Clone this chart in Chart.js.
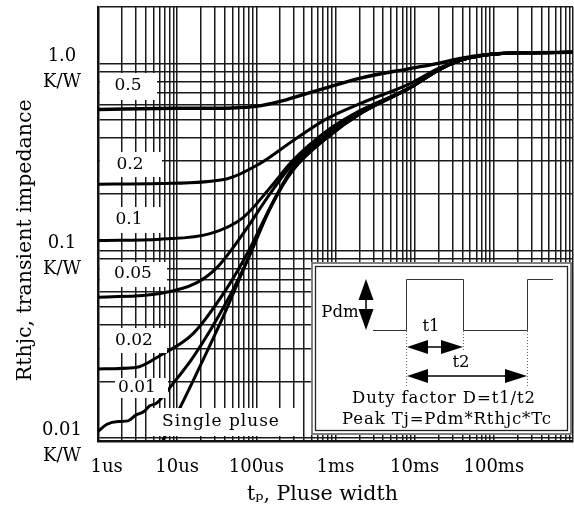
<!DOCTYPE html>
<html>
<head>
<meta charset="utf-8">
<script src="https://cdn.jsdelivr.net/npm/chart.js@4.4.1/dist/chart.umd.min.js"></script>
<style>
  html, body { margin: 0; padding: 0; background: #fff; }
  #wrap { width: 574px; height: 509px; }
</style>
</head>
<body>
<div id="wrap"><canvas id="zthChart" width="574" height="509"></canvas></div>
<script>
const FONT = "'DejaVu Serif', 'Liberation Serif', serif";

// --- axis ticks ---
const xMajor = [1e-6, 1e-5, 1e-4, 1e-3, 1e-2, 1e-1, 1];
const xMajorLabels = ['   1us', '10us', '100us', '1ms', '10ms', '100ms', ''];
const yMajor = [0.01, 0.1, 1];
const yMajorLabels = [['0.01', 'K/W'], ['0.1', 'K/W'], ['1.0', 'K/W']];
const gridSteps = [1, 2, 3, 4, 5, 6, 7, 8, 9];

// --- curves (pulse width in s, Zth in K/W) ---
const tD05 = [1e-6, 1e-5, 5e-5, 1e-4, 2e-4, 3e-4, 8e-4, 2e-3, 9e-3, 2e-2, 3.8e-2, 9.2e-2, 0.2, 1];
const zD05 = [0.567, 0.575, 0.578, 0.589, 0.626, 0.658, 0.744, 0.831, 0.940, 1.00, 1.063, 1.117, 1.138, 1.145];

const tD02 = [1e-6, 6.1e-6, 4.3e-5, 1.12e-4, 2.9e-4, 7.9e-4, 2.07e-3, 8.9e-3, 2e-2, 3.8e-2, 9.2e-2, 0.2, 1];
const zD02 = [0.226, 0.228, 0.242, 0.292, 0.386, 0.508, 0.611, 0.782, 0.94, 1.038, 1.117, 1.138, 1.145];

const tD01 = [1e-6, 6.1e-6, 2.6e-5, 6.8e-5, 1.5e-4, 2.9e-4, 7.9e-4, 2.07e-3, 8.9e-3, 2e-2, 3.8e-2, 9.2e-2, 0.2, 1];
const zD01 = [0.113, 0.115, 0.123, 0.150, 0.217, 0.303, 0.438, 0.561, 0.744, 0.92, 1.038, 1.117, 1.138, 1.145];

const tD005 = [1e-6, 6.1e-6, 1.7e-5, 3.2e-5, 6.8e-5, 1.5e-4, 2.9e-4, 7.9e-4, 2.07e-3, 8.9e-3, 2e-2, 3.8e-2, 9.2e-2, 0.2, 1];
const zD005 = [0.0562, 0.0590, 0.0667, 0.0813, 0.123, 0.202, 0.292, 0.422, 0.547, 0.744, 0.92, 1.038, 1.117, 1.138, 1.145];

const tD002 = [1e-6, 3e-6, 6.1e-6, 1.6e-5, 4.3e-5, 7.7e-5, 1.5e-4, 2.9e-4, 7.9e-4, 2.07e-3, 8.9e-3, 2e-2, 3.8e-2, 9.2e-2, 0.2, 1];
const zD002 = [0.0233, 0.0237, 0.0275, 0.0361, 0.0634, 0.0966, 0.170, 0.278, 0.412, 0.540, 0.744, 0.92, 1.038, 1.117, 1.138, 1.145];

const tD001 = [1e-6, 1.3e-6, 1.8e-6, 2.4e-6, 3e-6, 3.8e-6, 4.5e-6, 5.5e-6, 8.9e-6, 1.6e-5, 4.3e-5, 7.7e-5, 1.5e-4, 2.9e-4, 7.9e-4, 2.07e-3, 8.9e-3, 2e-2, 3.8e-2, 9.2e-2, 0.2, 1];
const zD001 = [0.0108, 0.0118, 0.0122, 0.0123, 0.0132, 0.0138, 0.0148, 0.0153, 0.0195, 0.0270, 0.0541, 0.0886, 0.168, 0.271, 0.402, 0.540, 0.744, 0.92, 1.038, 1.117, 1.138, 1.145];

const tSingle = [6.6e-6, 1.09e-5, 2.13e-5, 4.3e-5, 7.7e-5, 1.5e-4, 2.9e-4, 7.9e-4, 2.07e-3, 8.9e-3, 2e-2, 3.8e-2, 9.2e-2, 0.2, 1];
const zSingle = [0.0097, 0.0145, 0.0261, 0.0497, 0.0886, 0.170, 0.268, 0.402, 0.540, 0.744, 0.92, 1.038, 1.117, 1.138, 1.145];

const curveLabels = ['0.5', '0.2', '0.1', '0.05', '0.02', '0.01', 'Single pluse'];

// --- helpers ---
function toPoints(ts, zs) {
    return ts.map((t, i) => ({ x: t, y: zs[i] }));
}

function gridValues(decades) {
    const out = [];
    decades.forEach(d => gridSteps.forEach(s => out.push(s * d)));
    return out;
}

function sameLog(a, b) {
    return Math.abs(Math.log10(a) - Math.log10(b)) < 1e-6;
}

const xGrid = gridValues([1e-6, 1e-5, 1e-4, 1e-3, 1e-2, 1e-1]).concat([1]);
const yGrid = gridValues([0.01, 0.1]).concat([1, 2]);

function curve(ts, zs, width) {
    return {
        data: toPoints(ts, zs),
        borderColor: '#000',
        borderWidth: width,
        pointRadius: 0,
        fill: false,
        cubicInterpolationMode: 'monotone'
    };
}

// no extra padding for the first/last tick labels
function noPad(s) {
    s.paddingTop = 0;
    s.paddingBottom = 0;
    s.paddingLeft = 0;
    s.paddingRight = 0;
}

// label boxes over the grid: [text, x1, y1, x2, y2, cx, cy]
const labelBoxes = [
    [curveLabels[0], 100, 73, 157, 100, 128, 86],
    [curveLabels[1], 100, 152, 162, 177, 130, 165],
    [curveLabels[2], 100, 207, 162, 233, 129, 220],
    [curveLabels[3], 100, 262, 167, 287, 133, 274],
    [curveLabels[4], 100, 328, 167, 353, 134, 341],
    [curveLabels[5], 115, 378, 168, 398, 137, 388],
    [curveLabels[6], 150, 408, 303, 436, 221, 422]
];

function filledArrow(ctx, tipX, tipY, baseX, baseY, half) {
    // triangle from a tip back to a base, perpendicular half-width "half"
    const dx = tipX - baseX, dy = tipY - baseY;
    const len = Math.hypot(dx, dy);
    const nx = -dy / len * half, ny = dx / len * half;
    ctx.beginPath();
    ctx.moveTo(tipX, tipY);
    ctx.lineTo(baseX + nx, baseY + ny);
    ctx.lineTo(baseX - nx, baseY - ny);
    ctx.closePath();
    ctx.fill();
}

const annotations = {
    id: 'annotations',
    afterDraw(chart) {
        const ctx = chart.ctx;
        ctx.save();
        ctx.textAlign = 'center';
        ctx.textBaseline = 'middle';
        ctx.font = '17px ' + FONT;

        labelBoxes.forEach(([txt, x1, y1, x2, y2, cx, cy]) => {
            ctx.fillStyle = '#fff';
            ctx.fillRect(x1, y1, x2 - x1, y2 - y1);
            ctx.fillStyle = '#000';
            ctx.letterSpacing = txt.length > 4 ? '1px' : '0px';
            ctx.fillText(txt, cx, cy);
        });

        // inset with the pulse diagram
        ctx.fillStyle = '#fff';
        ctx.fillRect(311, 262, 261, 173);
        ctx.strokeStyle = '#555';
        ctx.lineWidth = 1.5;
        ctx.strokeRect(312, 263, 259, 171);
        ctx.strokeStyle = '#222';
        ctx.lineWidth = 1.3;
        ctx.strokeRect(315.5, 266.5, 252, 164);

        ctx.strokeStyle = '#333';
        ctx.lineWidth = 1;
        ctx.beginPath();
        ctx.moveTo(373, 330.5);
        ctx.lineTo(406.5, 330.5);
        ctx.lineTo(406.5, 279.5);
        ctx.lineTo(463.5, 279.5);
        ctx.lineTo(463.5, 330.5);
        ctx.lineTo(527.5, 330.5);
        ctx.lineTo(527.5, 279.5);
        ctx.lineTo(553, 279.5);
        ctx.stroke();

        ctx.setLineDash([1, 2]);
        ctx.strokeStyle = '#666';
        ctx.beginPath();
        ctx.moveTo(406.5, 331); ctx.lineTo(406.5, 388);
        ctx.moveTo(463.5, 331); ctx.lineTo(463.5, 351);
        ctx.moveTo(527.5, 331); ctx.lineTo(527.5, 388);
        ctx.stroke();
        ctx.setLineDash([]);

        // arrows
        ctx.fillStyle = '#000';
        ctx.strokeStyle = '#000';
        ctx.lineWidth = 1.5;
        ctx.beginPath();
        ctx.moveTo(366, 290); ctx.lineTo(366, 320);
        ctx.moveTo(415, 347); ctx.lineTo(455, 347);
        ctx.moveTo(415, 376); ctx.lineTo(518, 376);
        ctx.stroke();
        filledArrow(ctx, 366, 279, 366, 300, 7.5);
        filledArrow(ctx, 366, 330, 366, 309, 7.5);
        filledArrow(ctx, 407, 347, 428, 347, 7);
        filledArrow(ctx, 463, 347, 441, 347, 7);
        filledArrow(ctx, 407, 376, 428, 376, 7);
        filledArrow(ctx, 527, 376, 505, 376, 7);

        ctx.font = '16.5px ' + FONT;
        ctx.fillStyle = '#000';
        ctx.letterSpacing = '0px';
        ctx.fillText('Pdm', 340, 313);
        ctx.fillText('t1', 431, 327);
        ctx.fillText('t2', 461, 363);
        ctx.letterSpacing = '0.9px';
        ctx.fillText('Duty factor D=t1/t2', 444, 399);
        ctx.fillText('Peak Tj=Pdm*Rthjc*Tc', 447, 420);
        ctx.restore();
    }
};

new Chart(document.getElementById('zthChart'), {
    type: 'line',
    data: {
        datasets: [
            curve(tD05, zD05, 3.5),
            curve(tD02, zD02, 3),
            curve(tD01, zD01, 3),
            curve(tD005, zD005, 3),
            curve(tD002, zD002, 3),
            curve(tD001, zD001, 3),
            curve(tSingle, zSingle, 3)
        ]
    },
    options: {
        responsive: false,
        animation: false,
        layout: { padding: { top: 7, right: 1, left: 0, bottom: 0 } },
        plugins: {
            legend: { display: false },
            tooltip: { enabled: false }
        },
        scales: {
            x: {
                type: 'logarithmic',
                min: 1e-6,
                max: 1,
                afterBuildTicks: s => { s.ticks = xGrid.map(v => ({ value: v })); },
                afterFit: s => { s.height = 68; noPad(s); },
                ticks: {
                    autoSkip: false,
                    maxRotation: 0,
                    padding: 16,
                    color: '#000',
                    font: { family: FONT, size: 18 },
                    callback: function(value) {
                        const i = xMajor.findIndex(m => sameLog(m, value));
                        return i >= 0 ? xMajorLabels[i] : '';
                    }
                },
                grid: { color: '#1a1a1a', lineWidth: 1.5, drawTicks: false },
                border: { display: true, color: '#111', width: 2.5 },
                title: {
                    display: true,
                    text: 'tₚ, Pluse width    ',
                    color: '#000',
                    font: { family: FONT, size: 20.5 },
                    padding: { top: 0, bottom: 2 }
                }
            },
            y: {
                type: 'logarithmic',
                min: 0.0096,
                max: 2.0,
                afterBuildTicks: s => { s.ticks = yGrid.map(v => ({ value: v })); },
                afterFit: s => { s.width = 98; noPad(s); },
                ticks: {
                    autoSkip: false,
                    crossAlign: 'center',
                    padding: 16,
                    labelOffset: 6,
                    color: '#000',
                    font: { family: FONT, size: 18, lineHeight: 1.45 },
                    callback: function(value) {
                        const i = yMajor.findIndex(m => sameLog(m, value));
                        return i >= 0 ? yMajorLabels[i] : '';
                    }
                },
                grid: { color: '#1a1a1a', lineWidth: 1.5, drawTicks: false },
                border: { display: true, color: '#111', width: 2.5 },
                title: {
                    display: true,
                    text: 'Rthjc, transient impedance     ',
                    color: '#000',
                    font: { family: FONT, size: 20.5 },
                    padding: { top: 13, bottom: 0 }
                }
            }
        }
    },
    plugins: [annotations]
});
</script>
</body>
</html>
